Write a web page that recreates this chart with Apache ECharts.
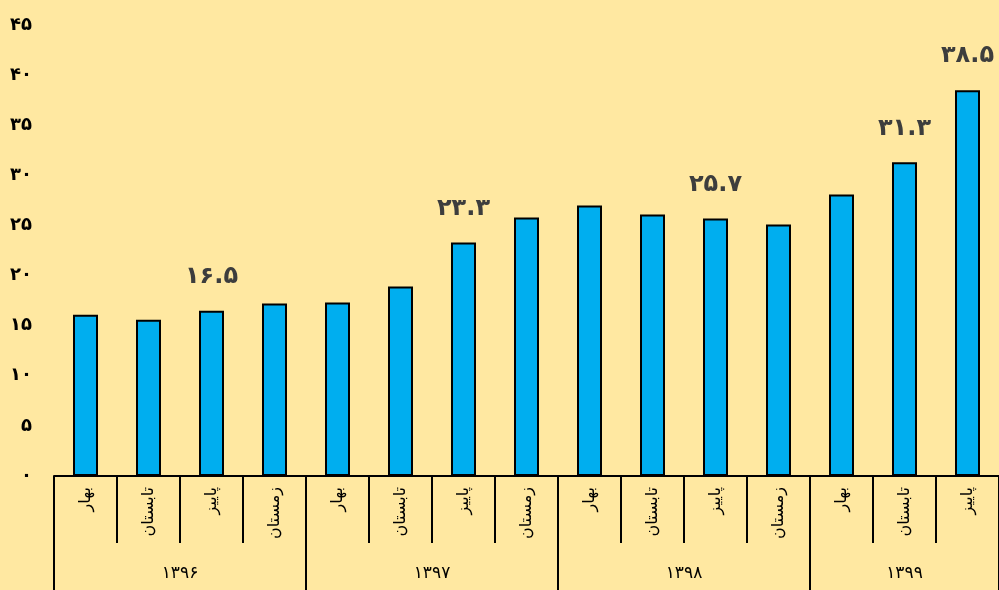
<!DOCTYPE html>
<html>
<head>
<meta charset="utf-8">
<script src="https://cdn.jsdelivr.net/npm/echarts@6/dist/echarts.min.js"></script>
<style>
html,body{margin:0;padding:0;background:#FFE8A1;}
#c{width:999px;height:590px;}
</style>
</head>
<body>
<div id="c"></div>
<script>
// Data
var seasons = ['بهار','تابستان','پاییز','زمستان','بهار','تابستان','پاییز','زمستان','بهار','تابستان','پاییز','زمستان','بهار','تابستان','پاییز'];
var values = [16.1, 15.6, 16.5, 17.2, 17.3, 18.9, 23.3, 25.8, 27.0, 26.1, 25.7, 25.1, 28.1, 31.3, 38.5];
var showLabel = [false, false, true, false, false, false, true, false, false, false, true, false, false, true, true];
var years = ['1396','1397','1398','1399'];
var yearCounts = [4, 4, 4, 3];
var yTicks = [0, 5, 10, 15, 20, 25, 30, 35, 40, 45];

function fa(s){
  return String(s).replace(/[0-9]/g, function(d){ return '۰۱۲۳۴۵۶۷۸۹'[+d]; });
}

// build year label slots
var yearSlots = [];
var yearStarts = {};
var pos = 0;
years.forEach(function(y, k){
  var n = yearCounts[k];
  yearStarts[pos] = true;
  for (var i = 0; i < n; i++) {
    var txt = '';
    if (n % 2 === 0 && i === n/2 - 1) txt = '{e|' + fa(y) + '}';
    if (n % 2 === 1 && i === (n-1)/2) txt = '{o|' + fa(y) + '}';
    yearSlots.push(txt);
  }
  pos += n;
});

var chart = echarts.init(document.getElementById('c'));
var font = 'DejaVu Sans';
chart.setOption({
  backgroundColor: '#FFE8A1',
  animation: false,
  grid: {left: 54, right: -1, top: 25, bottom: 114, containLabel: false},
  xAxis: [{
    type: 'category',
    data: seasons,
    boundaryGap: true,
    axisLine: {show: true, lineStyle: {color: '#000', width: 2}},
    axisTick: {show: true, length: 67, lineStyle: {color: '#000', width: 2}},
    axisLabel: {rotate: 90, margin: 11, fontFamily: font, fontSize: 16, color: '#000', interval: 0}
  }, {
    type: 'category',
    data: yearSlots,
    position: 'bottom',
    boundaryGap: true,
    axisLine: {show: false},
    axisTick: {show: true, length: 114, interval: function(i){ return !!yearStarts[i]; }, lineStyle: {color: '#000', width: 2}},
    axisLabel: {
      interval: 0, margin: 89, fontFamily: font, fontSize: 17, color: '#000',
      formatter: function(v){ return v; },
      rich: {
        e: {fontFamily: font, fontSize: 17, color: '#000', padding: [0, 0, 0, 63]},
        o: {fontFamily: font, fontSize: 17, color: '#000'}
      }
    }
  }],
  yAxis: {
    type: 'value', min: 0, max: 45, interval: 5,
    axisLine: {show: false}, axisTick: {show: false}, splitLine: {show: false},
    axisLabel: {margin: 22, fontFamily: font, fontSize: 18, fontWeight: 'bold', color: '#000',
      formatter: function(v){ return fa(v); }}
  },
  series: [{
    type: 'bar',
    xAxisIndex: 0,
    barWidth: 25,
    data: values.map(function(v, i){
      return {
        value: v,
        label: {show: showLabel[i]}
      };
    }),
    itemStyle: {color: '#00AEEF', borderColor: '#000', borderWidth: 2},
    label: {
      position: 'top', distance: 22, fontFamily: font, fontSize: 24, fontWeight: 'bold', color: '#3d3d3d',
      formatter: function(p){ return fa(p.value.toFixed(1)); }
    }
  }]
});
</script>
</body>
</html>
